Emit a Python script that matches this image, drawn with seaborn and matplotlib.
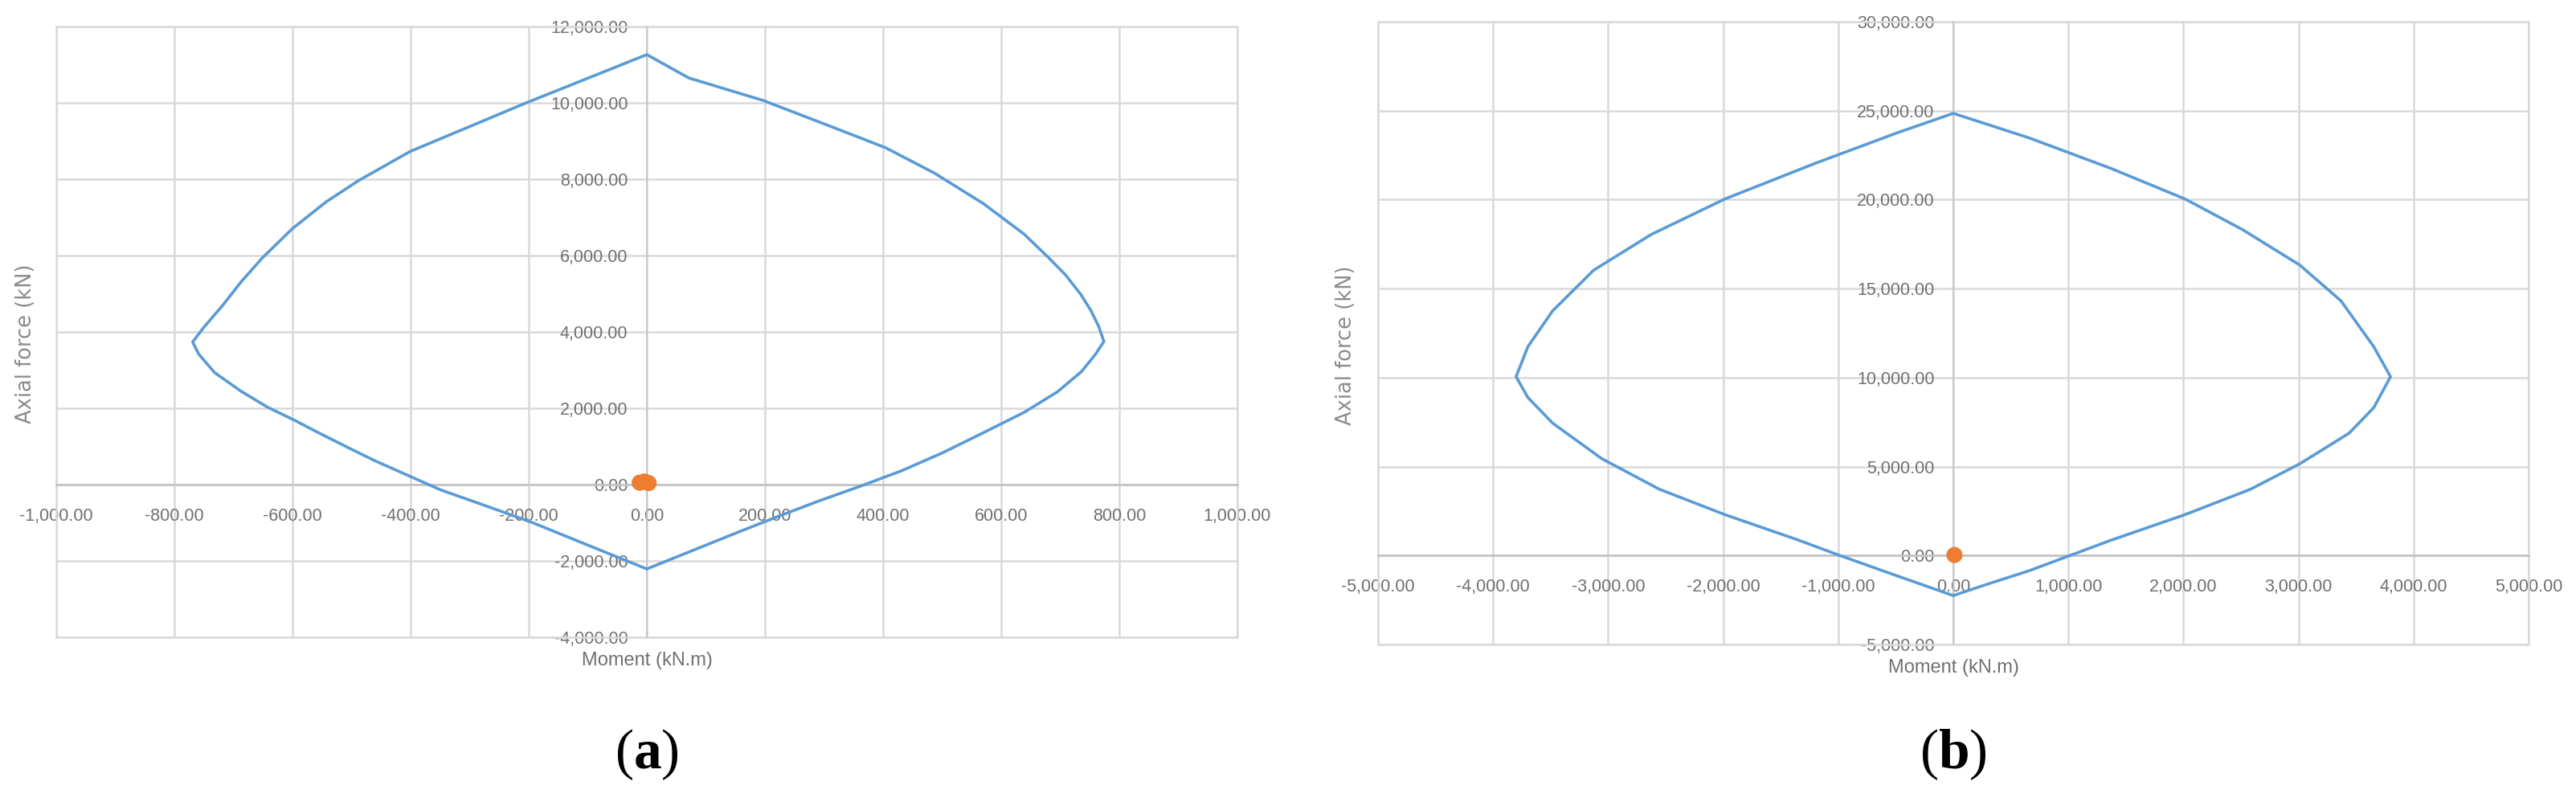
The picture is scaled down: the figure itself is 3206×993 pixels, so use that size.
import matplotlib
matplotlib.use("Agg")
import matplotlib.pyplot as plt
from matplotlib.patches import Rectangle
from matplotlib.ticker import FuncFormatter
import numpy as np
import pandas as pd
import seaborn as sns

# interaction curve (a): moment kN.m, axial force kN
moment_a = [0, -96, -193, -281, -349, -400, -461, -507, -552, -600, -642, -687, -732, -759, -769,
            -750, -719, -687, -651, -600, -543, -488, -400, -281, -211, -75, 0,
            71, 197, 293, 404, 487, 570, 639, 680, 709, 735, 752, 765, 774,
            760, 736, 695, 639, 570, 500, 431, 362, 293, 223, 154, 85, 0]
axial_a = [-2210, -1610, -1000, -510, -140, 210, 629, 978, 1328, 1712, 2026, 2445, 2935, 3424, 3738,
           4122, 4681, 5310, 5939, 6707, 7406, 7965, 8733, 9502, 9958, 10800, 11265,
           10653, 10063, 9493, 8827, 8160, 7360, 6560, 5950, 5493, 4980, 4560, 4150, 3750,
           3420, 2960, 2427, 1893, 1360, 827, 360, -40, -420, -830, -1250, -1680, -2210]
load_m_a = [-12, -4, 3]
load_p_a = [50, 80, 40]

# interaction curve (b)
moment_b = [0, -485, -985, -1342, -1984, -2555, -3055, -3483, -3697, -3800, -3697, -3483, -3126,
            -2627, -1984, -1199, -485, 0, 657, 1370, 2013, 2512, 3012, 3369, 3654, 3800, 3654,
            3440, 3012, 2584, 2013, 1370, 1013, 657, 300, 0]
axial_b = [-2250, -1150, 0, 859, 2296, 3727, 5444, 7447, 8878, 10050, 11740, 13744, 16034,
           18037, 20040, 22044, 23761, 24850, 23475, 21757, 20040, 18323, 16320, 14316, 11740, 10050, 8306,
           6875, 5158, 3727, 2296, 859, 0, -859, -1600, -2250]
load_m_b = [10]
load_p_b = [30]

xticks_a = np.arange(-1000, 1001, 200)
yticks_a = np.arange(-4000, 12001, 2000)
xticks_b = np.arange(-5000, 5001, 1000)
yticks_b = np.arange(-5000, 30001, 5000)

sns.set_style("white")
plt.rcParams['font.family'] = ['Liberation Sans', 'DejaVu Sans']
plt.rcParams['mathtext.fontset'] = 'custom'
plt.rcParams['mathtext.rm'] = 'Liberation Serif'
plt.rcParams['mathtext.bf'] = 'Liberation Serif:bold'

BLUE = '#5B9BD5'
ORANGE = '#ED7D31'
GRID = '#d9d9d9'
TXT = '#707070'

W, H = 3206, 993
fig = plt.figure(figsize=(W / 100, H / 100), dpi=100)

def px_box(x0, y0, x1, y1):
    return [x0 / W, 1 - y1 / H, (x1 - x0) / W, (y1 - y0) / H]

fmt = FuncFormatter(lambda v, p: f"{v:,.2f}")

def draw_panel(rect, m, p, lm, lp, xt, yt, letter, ylab_x):
    ax = fig.add_axes(px_box(*rect))
    curve = pd.DataFrame({'moment': m, 'axial': p})
    sns.lineplot(data=curve, x='moment', y='axial', sort=False, estimator=None,
                 color=BLUE, lw=2.6, ax=ax, zorder=4)
    pts = pd.DataFrame({'moment': lm, 'axial': lp})
    sns.scatterplot(data=pts, x='moment', y='axial', color=ORANGE, s=210,
                    edgecolor='none', ax=ax, zorder=5)
    ax.set_xlim(xt[0], xt[-1])
    ax.set_ylim(yt[0], yt[-1])
    ax.set_xticks(xt)
    ax.set_yticks(yt)
    ax.xaxis.set_major_formatter(fmt)
    ax.yaxis.set_major_formatter(fmt)
    ax.grid(True, color=GRID, lw=1.8)
    ax.set_axisbelow(True)
    for s in ['top', 'right']:
        ax.spines[s].set_visible(False)
    ax.spines['left'].set_position(('data', 0))
    ax.spines['bottom'].set_position(('data', 0))
    ax.spines['left'].set_color('#c4c4c4')
    ax.spines['left'].set_linewidth(1.2)
    ax.spines['bottom'].set_color('#c4c4c4')
    ax.spines['bottom'].set_linewidth(2.0)
    ax.tick_params(axis='x', length=0, pad=21, labelsize=15.5, labelcolor=TXT)
    ax.tick_params(axis='y', length=0, pad=17, labelsize=15.5, labelcolor=TXT)
    ax.add_patch(Rectangle((0, 0), 1, 1, transform=ax.transAxes, fill=False,
                           ec=GRID, lw=1.8, clip_on=False, zorder=1))
    ax.set_xlabel('')
    ax.set_ylabel('')
    cx = (rect[0] + rect[2]) / 2
    fig.text(cx / W, 1 - (rect[3] + 29) / H, 'Moment (kN.m)', ha='center', va='center',
             fontsize=17, color=TXT)
    fig.text(ylab_x / W, 1 - ((rect[1] + rect[3]) / 2 + 15) / H, 'Axial force (kN)',
             rotation=90, ha='center', va='center', fontsize=18.5, color='#8c8c8c',
             family='DejaVu Sans')
    fig.text(cx / W, 1 - 939 / H, '($\\mathbf{' + letter + '}$)', ha='center', va='center',
             fontsize=50, color='black', family='Liberation Serif')
    return ax

ax_a = draw_panel((70, 33, 1540, 793), moment_a, axial_a, load_m_a, load_p_a,
                  xticks_a, yticks_a, 'a', 32)
ax_b = draw_panel((1715, 27, 3147, 802), moment_b, axial_b, load_m_b, load_p_b,
                  xticks_b, yticks_b, 'b', 1675)

fig.savefig('out.png', dpi=100, facecolor='white')
